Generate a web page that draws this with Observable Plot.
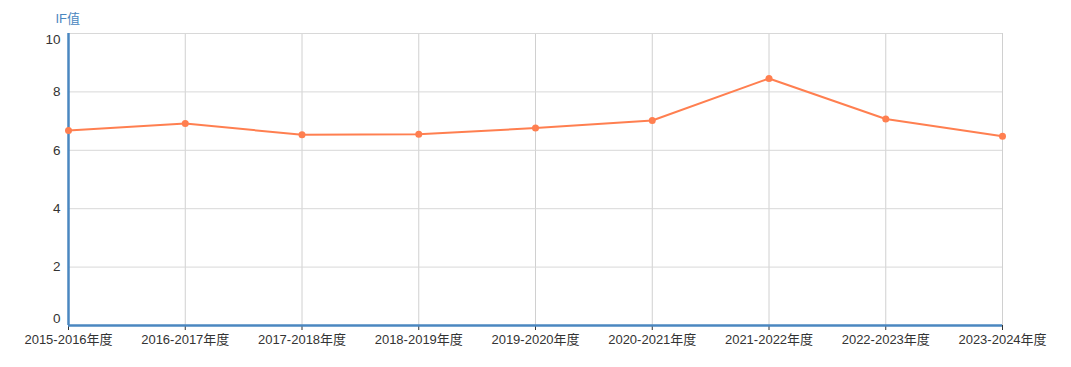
<!DOCTYPE html>
<html>
<head>
<meta charset="utf-8">
<script src="https://cdn.jsdelivr.net/npm/d3@7"></script>
<script src="https://cdn.jsdelivr.net/npm/@observablehq/plot@0.6"></script>
<style>
html, body { margin: 0; padding: 0; background: #fff; }
#chart svg { display: block; font-family: "Liberation Sans", Arial, "Noto Sans CJK SC", sans-serif; }
</style>
</head>
<body>
<div id="chart"></div>
<script>
const years = ["2015-2016年度","2016-2017年度","2017-2018年度","2018-2019年度","2019-2020年度","2020-2021年度","2021-2022年度","2022-2023年度","2023-2024年度"];
const ifValues = [6.68, 6.92, 6.53, 6.55, 6.76, 7.02, 8.46, 7.07, 6.48];
const yTicks = [0, 2, 4, 6, 8, 10];
const yTitle = "IF值";

const data = years.map((y, i) => ({year: y, value: ifValues[i]}));
const midTicks = yTicks.filter(t => t !== 0 && t !== 10);

const chart = Plot.plot({
  width: 1071,
  height: 367,
  marginLeft: 68,
  marginRight: 69,
  marginTop: 33,
  marginBottom: 42,
  style: {fontSize: "13px", color: "#333", background: "#fff"},
  x: {type: "point", domain: years, padding: 0, round: false},
  y: {domain: [0, 10]},
  marks: [
    Plot.gridX(years, {stroke: "#d0d0d0", strokeOpacity: 1, strokeWidth: 1}),
    Plot.gridY(yTicks, {stroke: "#d8d8d8", strokeOpacity: 1, strokeWidth: 1}),
    Plot.axisX(years, {tickSize: 5, stroke: "#333", tickPadding: 4, fontSize: 13, fill: "#333", label: null}),
    Plot.axisY(midTicks, {tickSize: 0, tickPadding: 8, fontSize: 13.5, fill: "#333", label: null}),
    Plot.text([10], {y: d => d, x: () => years[0], dx: -8, dy: 6, text: d => String(d), textAnchor: "end", fontSize: 13.5, fill: "#333"}),
    Plot.text([0], {y: d => d, x: () => years[0], dx: -8, dy: -7, text: d => String(d), textAnchor: "end", fontSize: 13.5, fill: "#333"}),
    Plot.ruleX([years[0]], {stroke: "#4a87c0", strokeWidth: 2.5}),
    Plot.ruleY([0], {stroke: "#4a87c0", strokeWidth: 2.5}),
    Plot.line(data, {x: "year", y: "value", stroke: "#ff7f50", strokeWidth: 2}),
    Plot.dot(data, {x: "year", y: "value", fill: "#ff7f50", r: 3.5}),
    Plot.text([yTitle], {frameAnchor: "top-left", dx: -13, dy: -20, text: d => d, fill: "#4a87c0", fontSize: 13, textAnchor: "start"})
  ]
});
document.getElementById("chart").appendChild(chart);
</script>
</body>
</html>
